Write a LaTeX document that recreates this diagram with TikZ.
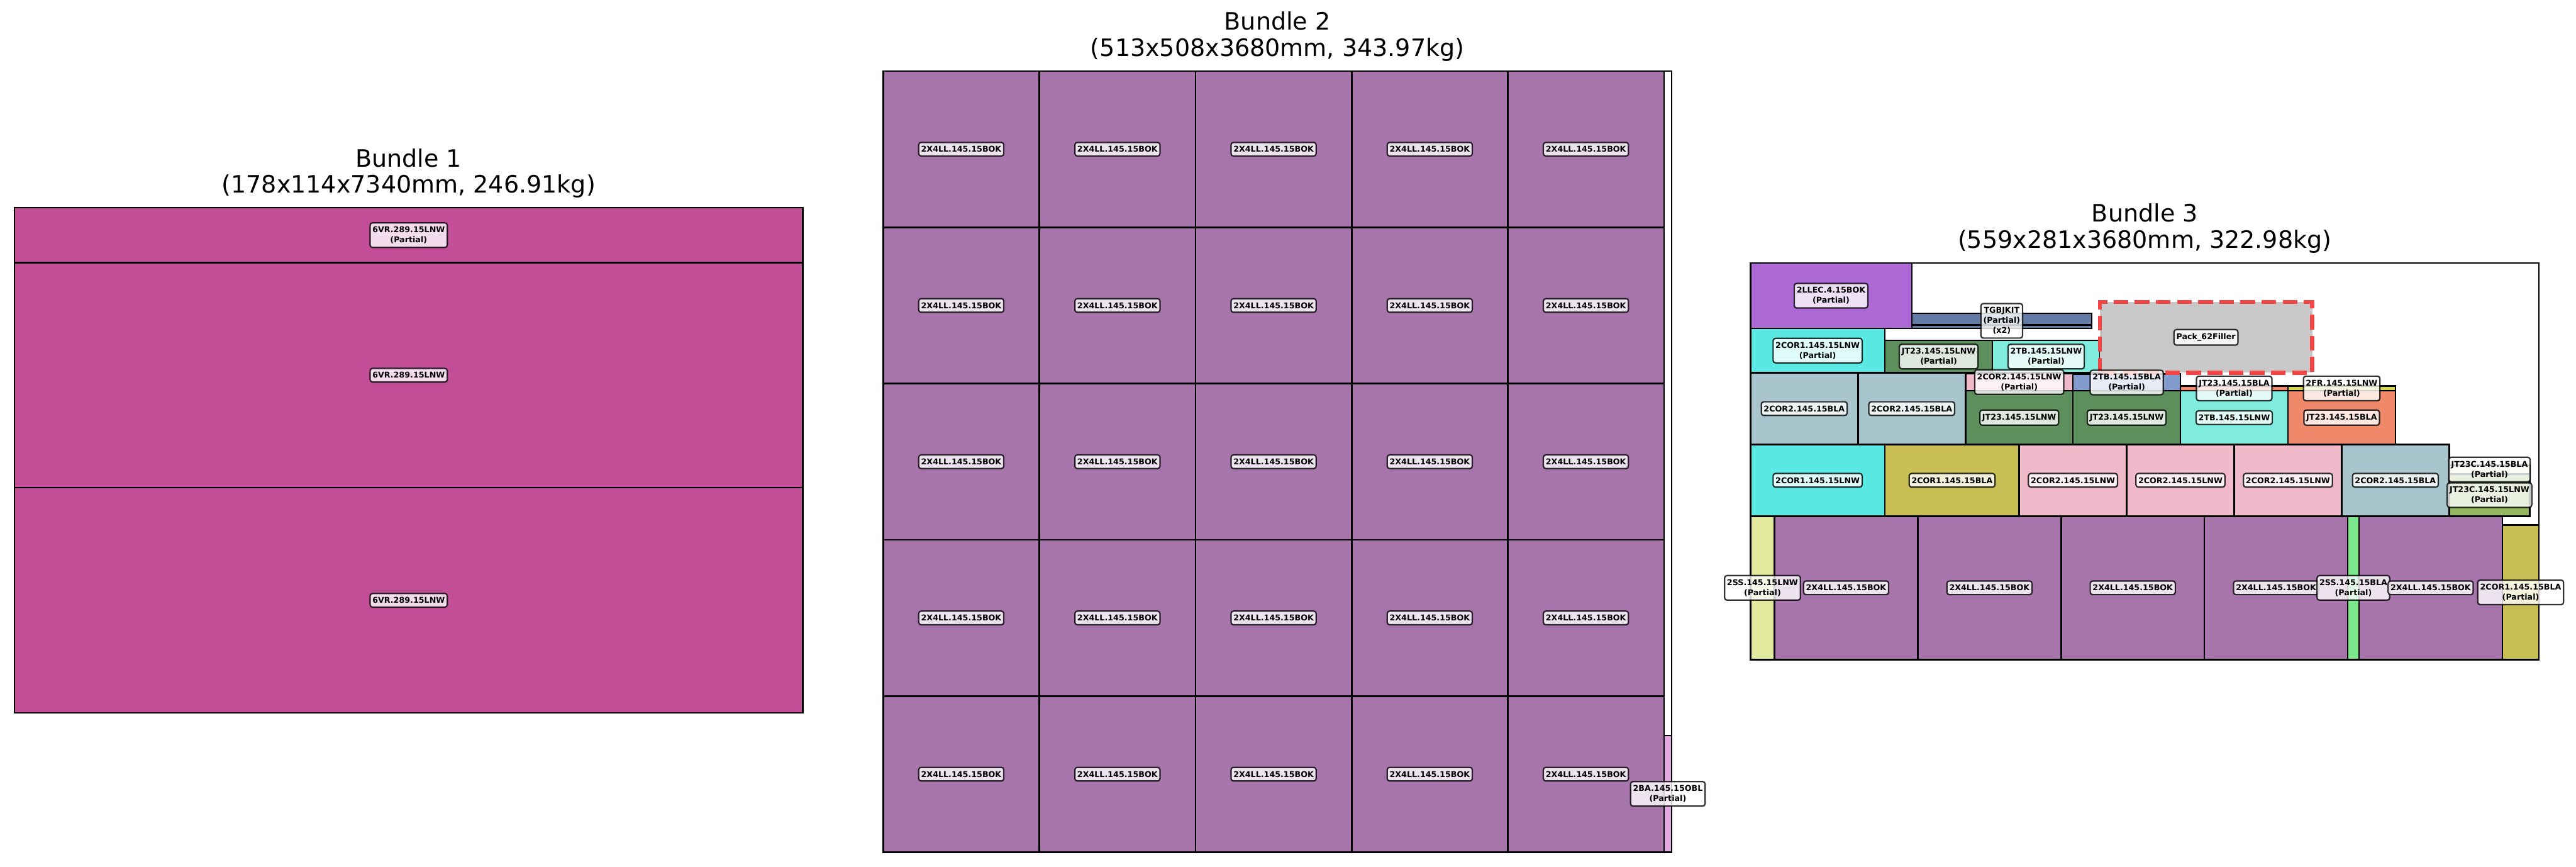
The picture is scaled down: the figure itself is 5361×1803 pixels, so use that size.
\documentclass[tikz,border=0pt]{standalone}
\usepackage{fontspec}
\setmainfont{DejaVu Sans}
\usepackage{tikz}
\usetikzlibrary{positioning}

\definecolor{vrmag}{HTML}{C14E96}
\definecolor{llpurp}{HTML}{A775AB}
\definecolor{baorch}{HTML}{E4A8E4}
\definecolor{llecpurp}{HTML}{AD6AD6}
\definecolor{kitblue}{HTML}{647BA5}
\definecolor{coronecyan}{HTML}{5AE8E2}
\definecolor{coroneolive}{HTML}{C8BE54}
\definecolor{cortwopink}{HTML}{F0BACA}
\definecolor{cortwogrey}{HTML}{A8C4CC}
\definecolor{jtgreen}{HTML}{5C8F5C}
\definecolor{jtorange}{HTML}{F0886A}
\definecolor{tbaqua}{HTML}{7FECDE}
\definecolor{tbblue}{HTML}{829CCE}
\definecolor{fryellow}{HTML}{D4D650}
\definecolor{sslnw}{HTML}{E2EAA0}
\definecolor{ssbla}{HTML}{7CE68C}
\definecolor{jtclnw}{HTML}{94B862}
\definecolor{jtcbla}{HTML}{E4EFD8}
\definecolor{fillgrey}{HTML}{C8C8C8}
\definecolor{fillred}{HTML}{F24545}

\begin{document}
\begin{tikzpicture}[
      x=0.0084667cm,y=0.0084667cm,
      piece/.style={draw=black,line width=0.8pt},
      outline/.style={draw=black,line width=0.8pt},
      lbl/.style={draw=black,draw opacity=0.8,fill=white,fill opacity=0.8,
                  text opacity=1,rounded corners=1.2pt,inner xsep=1.2pt,
                  inner ysep=1.9pt,line width=0.7pt,align=center,
                  font=\fontsize{4}{5}\selectfont\bfseries},
      ttl/.style={anchor=south,inner sep=0pt,align=center,
                  font=\fontsize{12}{13.2}\selectfont},
      filler/.style={fill=fillgrey,draw=fillred,line width=2pt,
                     dash pattern=on 7.4pt off 3.2pt},
  ]
  \useasboundingbox (0,0) rectangle (5361,1803);

  %--- Titles ---
  \node[ttl] (t1) at (850.5,1390) {Bundle 1\\(178x114x7340mm, 246.91kg)};
  \node[ttl] (t2) at (2658.5,1675) {Bundle 2\\(513x508x3680mm, 343.97kg)};
  \node[ttl] (t3) at (4463.5,1275) {Bundle 3\\(559x281x3680mm, 322.98kg)};

  %--- Bundle 1 ---
  \begin{scope}[shift={(30,320)},scale=9.219]
  \draw[outline] (0,0) rectangle (178,114);
  \draw[piece,fill=vrmag] (0,0) rectangle (178,50.8);
  \draw[piece,fill=vrmag] (0,50.8) rectangle (178,101.6);
  \draw[piece,fill=vrmag] (0,101.6) rectangle (178,114);
  \node[lbl] (vr1) at (89,25.4) {6VR.289.15LNW};
  \node[lbl] (vr2) at (89,76.2) {6VR.289.15LNW};
  \node[lbl] (vr3) at (89,107.8) {6VR.289.15LNW\\(Partial)};
  \end{scope}

  %--- Bundle 2 ---
  \begin{scope}[shift={(1838,30)},scale=3.1988]
  \draw[outline] (0,0) rectangle (513,508);
  \foreach \i in {0,...,4}
    \foreach \j in {0,...,4}
      \draw[piece,fill=llpurp] (\i*101.6,\j*101.6) rectangle ++(101.6,101.6);
  \draw[piece,fill=baorch] (508,0) rectangle (513,76);
  \foreach \i in {0,...,4}
    \foreach \j in {0,...,4}
      \node[lbl] (ll\i\j) at (\i*101.6+50.8,\j*101.6+50.8) {2X4LL.145.15BOK};
  \node[lbl] (ba) at (510.5,38) {2BA.145.15OBL\\(Partial)};
  \end{scope}

  %--- Bundle 3 ---
  \begin{scope}[shift={(3643,431)},scale=2.9356]
  \draw[outline] (0,0) rectangle (559,281);
  % bottom layer
  \draw[piece,fill=sslnw] (0,0) rectangle (17,101.6);
  \foreach \x in {17,118.6,220.2,321.8,431.4}
    \draw[piece,fill=llpurp] (\x,0) rectangle ++(101.6,101.6);
  \draw[piece,fill=ssbla] (423.4,0) rectangle (431.4,101.6);
  \draw[piece,fill=coroneolive] (533,0) rectangle (559,95.25);
  % second layer
  \draw[piece,fill=coronecyan] (0,101.6) rectangle (95.25,152.4);
  \draw[piece,fill=coroneolive] (95.25,101.6) rectangle (190.5,152.4);
  \foreach \x in {190.5,266.7,342.9}
    \draw[piece,fill=cortwopink] (\x,101.6) rectangle ++(76.2,50.8);
  \draw[piece,fill=cortwogrey] (419.1,101.6) rectangle (495.3,152.4);
  \draw[piece,fill=jtclnw] (495.3,101.6) rectangle (552.5,131.5);
  \draw[piece,fill=jtcbla] (495.3,131.5) rectangle (552.5,137.6);
  % third layer
  \draw[piece,fill=cortwogrey] (0,152.4) rectangle (76.2,203.2);
  \draw[piece,fill=cortwogrey] (76.2,152.4) rectangle (152.4,203.2);
  \draw[piece,fill=jtgreen] (152.4,152.4) rectangle (228.6,190.5);
  \draw[piece,fill=jtgreen] (228.6,152.4) rectangle (304.8,190.5);
  \draw[piece,fill=tbaqua] (304.8,152.4) rectangle (381,190.5);
  \draw[piece,fill=jtorange] (381,152.4) rectangle (457.2,190.5);
  \draw[piece,fill=cortwopink] (152.4,190.5) rectangle (228.6,202.7);
  \draw[piece,fill=tbblue] (228.6,190.5) rectangle (304.8,202.2);
  \draw[piece,fill=jtorange] (304.8,190.5) rectangle (381,193.8);
  \draw[piece,fill=fryellow] (381,190.5) rectangle (457.2,193.8);
  % fourth layer
  \draw[piece,fill=coronecyan] (0,203.2) rectangle (95.25,234.7);
  \draw[piece,fill=jtgreen] (95.25,203.2) rectangle (171.45,226.2);
  \draw[piece,fill=tbaqua] (171.45,203.2) rectangle (247.65,226.2);
  \draw[filler] (247.65,203.2) rectangle (398.2,253.4);
  % top layer
  \draw[piece,fill=llecpurp] (0,234.7) rectangle (114.3,281);
  \draw[piece,fill=kitblue] (114.3,234.7) rectangle (241.9,237.1);
  \draw[piece,fill=kitblue] (114.3,237.1) rectangle (241.9,245.3);

  % labels
  \node[lbl] (ss1) at (8.5,50.8) {2SS.145.15LNW\\(Partial)};
  \foreach \x [count=\n] in {17,118.6,220.2,321.8}
    \node[lbl] (xl\n) at (\x+50.8,50.8) {2X4LL.145.15BOK};
  \node[lbl] (ss2) at (427.4,50.8) {2SS.145.15BLA\\(Partial)};
  \node[lbl] (xl5) at (482.2,50.8) {2X4LL.145.15BOK};
  \node[lbl] (co1) at (546,47.6) {2COR1.145.15BLA\\(Partial)};
  \node[lbl] (co2) at (47.6,127) {2COR1.145.15LNW};
  \node[lbl] (co3) at (142.9,127) {2COR1.145.15BLA};
  \foreach \x [count=\n] in {190.5,266.7,342.9}
    \node[lbl] (cp\n) at (\x+38.1,127) {2COR2.145.15LNW};
  \node[lbl] (cg1) at (457.2,127) {2COR2.145.15BLA};
  \node[lbl] (jc1) at (523.9,134.6) {JT23C.145.15BLA\\(Partial)};
  \node[lbl] (jc2) at (523.9,116.5) {JT23C.145.15LNW\\(Partial)};
  \node[lbl] (cg2) at (38.1,177.8) {2COR2.145.15BLA};
  \node[lbl] (cg3) at (114.3,177.8) {2COR2.145.15BLA};
  \node[lbl] (jt1) at (190.5,171.4) {JT23.145.15LNW};
  \node[lbl] (jt2) at (266.7,171.4) {JT23.145.15LNW};
  \node[lbl] (tb1) at (342.9,171.4) {2TB.145.15LNW};
  \node[lbl] (jb1) at (419.1,171.4) {JT23.145.15BLA};
  \node[lbl] (cp4) at (190.5,196.6) {2COR2.145.15LNW\\(Partial)};
  \node[lbl] (tb2) at (266.7,196.3) {2TB.145.15BLA\\(Partial)};
  \node[lbl] (jb2) at (342.9,192.1) {JT23.145.15BLA\\(Partial)};
  \node[lbl] (fr1) at (419.1,192.1) {2FR.145.15LNW\\(Partial)};
  \node[lbl] (co4) at (47.6,218.9) {2COR1.145.15LNW\\(Partial)};
  \node[lbl] (jt3) at (133.4,214.7) {JT23.145.15LNW\\(Partial)};
  \node[lbl] (tb3) at (209.6,214.7) {2TB.145.15LNW\\(Partial)};
  \node[lbl] (pk) at (322.9,228.3) {Pack\_62Filler};
  \node[lbl] (lc) at (57.1,257.8) {2LLEC.4.15BOK\\(Partial)};
  \node[lbl] (kit) at (178.1,240) {TGBJKIT\\(Partial)\\(x2)};
  \end{scope}
  \end{tikzpicture}
\end{document}
